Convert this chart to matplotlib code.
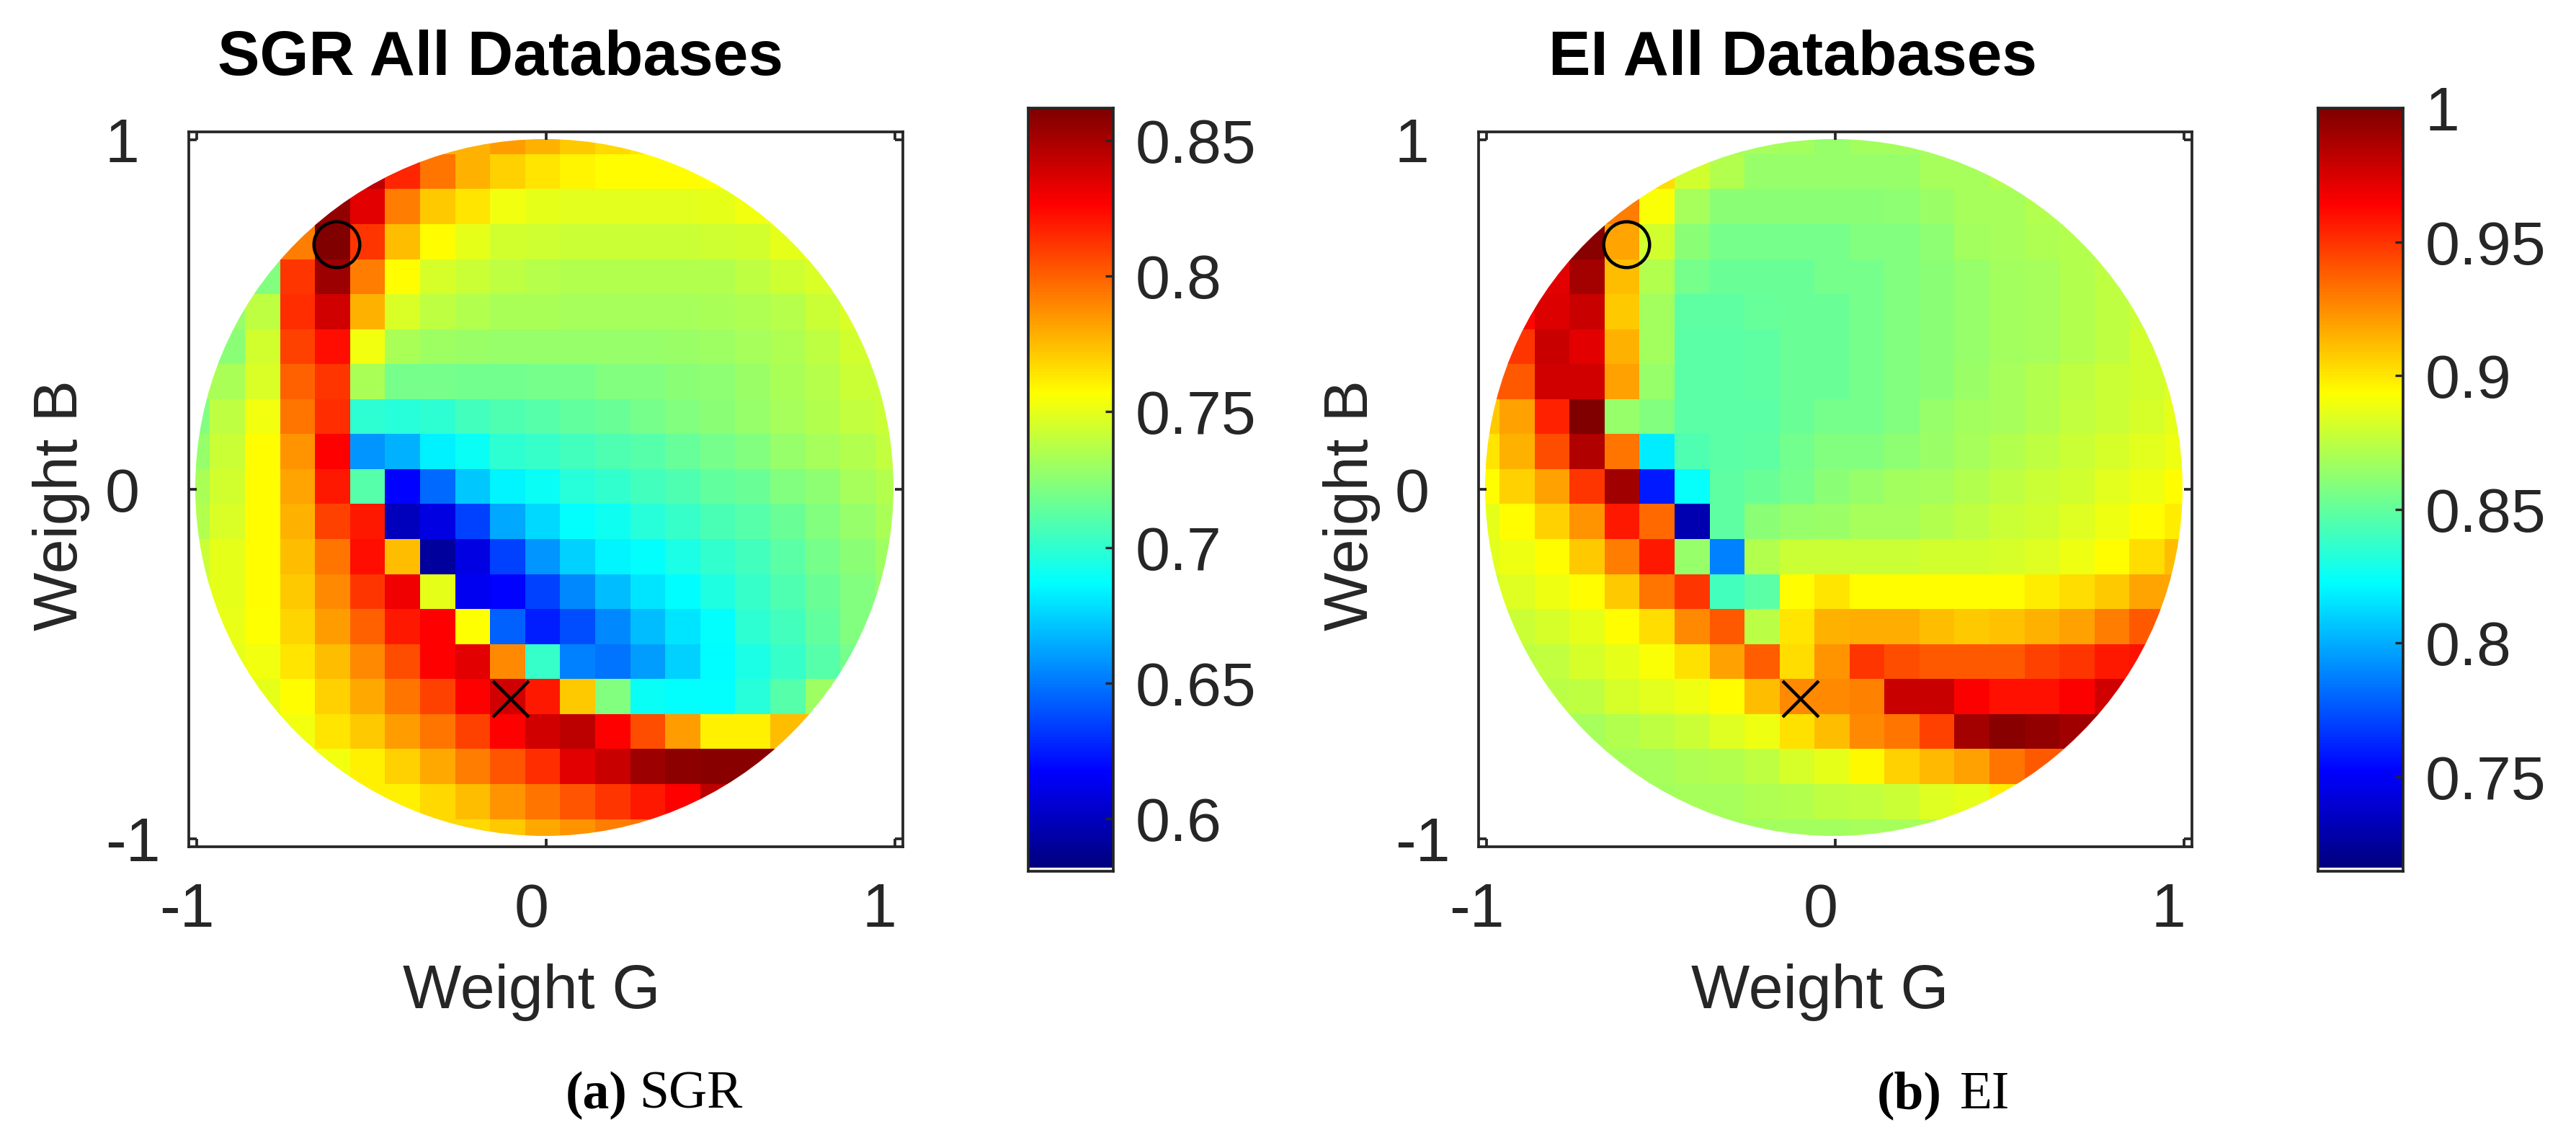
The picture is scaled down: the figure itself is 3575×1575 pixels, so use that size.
import numpy as np
import matplotlib
matplotlib.use('Agg')
import matplotlib.pyplot as plt
from matplotlib.colors import LinearSegmentedColormap
from matplotlib.patches import Ellipse

# values in thousandths, one list per row (top row first), first visible column in *_start
sgr_start = [8, 5, 4, 3, 2, 1, 1, 1, 0, 0, 0, 0, 0, 0, 0, 1, 2, 3, 4, 6, 8]
sgr_rows = [
    [778, 784, 778, 772, 767, 764],
    [845, 817, 795, 778, 770, 764, 760, 757, 757, 757, 756],
    [856, 834, 792, 772, 764, 753, 750, 749, 749, 749, 749, 750, 753, 756],
    [792, 862, 812, 775, 758, 750, 744, 743, 742, 742, 742, 742, 743, 744, 750, 756],
    [722, 812, 854, 792, 758, 746, 742, 739, 737, 736, 736, 736, 736, 736, 739, 743, 747, 753],
    [728, 739, 814, 840, 778, 747, 739, 736, 733, 733, 732, 732, 732, 732, 733, 735, 737, 742, 747],
    [725, 744, 809, 823, 753, 733, 730, 729, 728, 728, 728, 728, 728, 729, 730, 732, 735, 739, 744],
    [733, 747, 800, 812, 733, 719, 719, 718, 718, 719, 719, 722, 723, 725, 726, 729, 733, 737, 742],
    [722, 739, 753, 795, 814, 700, 697, 700, 705, 708, 711, 714, 716, 719, 722, 725, 728, 732, 736, 740, 742],
    [728, 742, 758, 786, 826, 658, 666, 683, 690, 700, 702, 705, 708, 711, 715, 719, 723, 728, 732, 736, 740],
    [733, 744, 757, 782, 820, 711, 617, 646, 672, 684, 690, 697, 701, 705, 708, 714, 716, 722, 726, 732, 736],
    [736, 747, 757, 778, 809, 820, 599, 610, 635, 663, 677, 687, 691, 697, 702, 707, 711, 716, 722, 728, 733],
    [742, 750, 757, 775, 795, 823, 775, 590, 610, 635, 658, 674, 684, 688, 694, 701, 705, 712, 719, 725, 730],
    [744, 750, 757, 772, 789, 812, 831, 750, 613, 617, 635, 655, 669, 680, 686, 695, 702, 708, 716, 722, 728],
    [750, 751, 756, 768, 784, 800, 820, 826, 756, 644, 625, 638, 655, 669, 680, 687, 700, 705, 714, 722],
    [750, 753, 764, 775, 789, 806, 826, 834, 789, 702, 652, 649, 660, 674, 686, 694, 702, 711, 719],
    [750, 758, 770, 781, 795, 809, 826, 840, 820, 772, 722, 690, 687, 688, 697, 711, 730],
    [753, 764, 772, 784, 795, 809, 827, 840, 845, 826, 806, 784, 761, 761, 775],
    [753, 761, 770, 781, 792, 803, 814, 834, 842, 854, 858, 859, 859],
    [761, 767, 775, 786, 795, 803, 812, 820, 827, 845],
    [767, 772, 781, 786, 792, 795],
]

ei_start = [8, 5, 4, 3, 2, 1, 1, 1, 0, 0, 0, 0, 0, 0, 1, 1, 2, 3, 4, 5, 8]
ei_rows = [
    [869, 867, 864, 867, 867, 869],
    [903, 881, 872, 864, 864, 864, 864, 864, 868, 869, 872],
    [929, 892, 869, 861, 861, 861, 861, 861, 862, 865, 868, 869, 872, 875],
    [997, 918, 881, 861, 855, 855, 855, 855, 858, 859, 862, 867, 868, 871, 872, 875],
    [972, 989, 912, 872, 855, 852, 852, 852, 855, 855, 858, 861, 864, 867, 868, 872, 875, 878],
    [963, 974, 980, 909, 867, 849, 849, 851, 852, 852, 855, 858, 861, 864, 867, 868, 872, 875, 878],
    [949, 980, 972, 915, 867, 847, 847, 849, 852, 852, 855, 858, 861, 864, 867, 868, 872, 875, 881],
    [940, 977, 977, 920, 864, 847, 847, 849, 852, 852, 855, 858, 861, 865, 868, 872, 875, 878, 881, 884],
    [909, 920, 955, 1000, 864, 858, 847, 847, 848, 852, 855, 855, 858, 864, 867, 869, 872, 876, 879, 882, 886],
    [901, 915, 943, 986, 932, 817, 844, 847, 849, 854, 858, 859, 862, 865, 868, 872, 875, 878, 882, 885, 889],
    [894, 906, 920, 949, 991, 759, 824, 849, 852, 855, 861, 864, 867, 869, 872, 875, 878, 881, 885, 889, 894],
    [886, 894, 906, 923, 957, 935, 730, 849, 861, 864, 865, 868, 869, 872, 875, 879, 881, 884, 888, 894, 899],
    [885, 889, 894, 909, 929, 957, 864, 787, 872, 878, 879, 878, 878, 881, 881, 882, 884, 889, 894, 903, 912],
    [879, 884, 889, 894, 909, 932, 949, 841, 847, 894, 901, 894, 894, 894, 894, 894, 898, 903, 909, 918, 918],
    [878, 882, 886, 894, 903, 926, 940, 874, 901, 915, 916, 916, 912, 909, 911, 915, 920, 929, 940],
    [875, 876, 882, 886, 892, 902, 920, 938, 903, 923, 949, 943, 939, 939, 940, 946, 949, 957, 960],
    [874, 875, 882, 885, 889, 894, 912, 926, 926, 928, 980, 980, 965, 960, 960, 965, 977],
    [869, 872, 875, 878, 884, 889, 902, 912, 926, 932, 946, 989, 997, 994, 991],
    [868, 869, 871, 872, 875, 882, 886, 895, 906, 913, 920, 932, 940],
    [867, 868, 869, 871, 872, 875, 876, 879, 884, 886, 898],
    [867, 867, 867, 868, 869, 871],
]

sgr_limits = [0.582, 0.862]
ei_limits = [0.716, 1.0]
sgr_cticks = [0.6, 0.65, 0.7, 0.75, 0.8, 0.85]
sgr_clabels = ['0.6', '0.65', '0.7', '0.75', '0.8', '0.85']
ei_cticks = [0.75, 0.8, 0.85, 0.9, 0.95, 1.0]
ei_clabels = ['0.75', '0.8', '0.85', '0.9', '0.95', '1']

best_point = [-0.6, 0.7]     # circle
cross_point = [-0.1, -0.6]   # cross
ticks = [-1, 0, 1]
tick_labels = ['-1', '0', '1']

W, H = 3575, 1575
DARK = '#262626'
LW = 2.7
LIM = 1.0225   # the box sits a bit outside the unit disc
plt.rcParams['font.family'] = ['Liberation Sans', 'DejaVu Sans']

# same anchors as the matlab jet map
jet = LinearSegmentedColormap.from_list('mjet', [
    (0, (0, 0, 0.5)), (0.125, (0, 0, 1)), (0.375, (0, 1, 1)),
    (0.625, (1, 1, 0)), (0.875, (1, 0, 0)), (1, (0.5, 0, 0))], N=256)


def make_grid(starts, rows):
    grid = np.zeros((21, 21))
    for i, (s, row) in enumerate(zip(starts, rows)):
        grid[i, :s] = row[0]   # only slivers of these end cells show inside the disc
        grid[i, s:s + len(row)] = row
        grid[i, s + len(row):] = row[-1]
    return grid / 1000


def box(x0, x1, y0, y1):
    return [x0 / W, 1 - y1 / H, (x1 - x0) / W, (y1 - y0) / H]


def put(fig, x, y, s, **kw):
    fig.text(x / W, 1 - y / H, s, **kw)


def panel(fig, x0, x1, grid, limits):
    ax = fig.add_axes(box(x0, x1, 183, 1175))
    x_edges = -0.0092 + 0.1003 * (np.arange(22) - 10.5)
    y_edges = 0.0078 - 0.1001 * (np.arange(22) - 10.5)
    mesh = ax.pcolormesh(x_edges, y_edges, grid, cmap=jet, vmin=limits[0], vmax=limits[1],
                         shading='flat', antialiased=False)
    disc = Ellipse((-0.004, 0.005), 2 * 1.0, 2 * 0.9964, transform=ax.transData)
    mesh.set_clip_path(disc)
    ax.plot(best_point[0], best_point[1], 'o', ms=45.8, mfc='none', mec='k', mew=3.2)
    ax.plot(cross_point[0], cross_point[1], 'x', ms=36, mec='k', mew=3.2)
    ax.set_xlim(-LIM, LIM)
    ax.set_ylim(-LIM, LIM)
    ax.set_xticks(ticks)
    ax.set_yticks(ticks)
    ax.set_xticklabels([])
    ax.set_yticklabels([])
    ax.tick_params(direction='in', top=True, right=True, length=7.6, width=LW, color=DARK)
    for sp in ax.spines.values():
        sp.set_linewidth(LW)
        sp.set_color(DARK)
    # the x labels do not sit centred under their ticks in the original
    x_shift = [-13, -20, -22]
    for t, lab, dx in zip(ticks, tick_labels, x_shift):
        ax.annotate(lab, xy=(t, 0), xycoords=('data', 'axes fraction'), xytext=(dx, -111),
                    textcoords='offset pixels', ha='center', va='baseline', fontsize=62, color=DARK)
    for t, lab in zip(ticks, tick_labels):
        ax.annotate(lab, xy=(0, t), xycoords=('axes fraction', 'data'), xytext=(-116, -31),
                    textcoords='offset pixels', ha='left', va='baseline', fontsize=62, color=DARK)
    return ax


def colorbar(fig, x0, x1, limits, cticks, clabels):
    cax = fig.add_axes(box(x0, x1, 150, 1209))
    grad = np.linspace(limits[0], limits[1], 256).reshape(-1, 1)
    cax.imshow(grad, cmap=jet, origin='lower', aspect='auto', vmin=limits[0], vmax=limits[1],
               extent=[0, 1, limits[0], limits[1]])
    cax.set_ylim(limits[0] - 0.005 * (limits[1] - limits[0]), limits[1])
    cax.set_xticks([])
    cax.yaxis.tick_right()
    cax.set_yticks(cticks)
    cax.set_yticklabels(clabels)
    cax.tick_params(axis='y', direction='in', length=8, width=2.4, color=DARK, pad=22,
                    labelsize=62, labelcolor=DARK)
    for sp in cax.spines.values():
        sp.set_linewidth(LW)
        sp.set_color(DARK)


fig = plt.figure(figsize=(W / 100, H / 100), dpi=100, facecolor='white')

panel(fig, 262, 1253, make_grid(sgr_start, sgr_rows), sgr_limits)
panel(fig, 2052, 3042, make_grid(ei_start, ei_rows), ei_limits)
colorbar(fig, 1427, 1545, sgr_limits, sgr_cticks, sgr_clabels)
colorbar(fig, 3217, 3335, ei_limits, ei_cticks, ei_clabels)

put(fig, 695, 104, 'SGR All Databases', fontsize=63, fontweight='bold', color='k', ha='center', va='baseline')
put(fig, 2488, 104, 'EI All Databases', fontsize=63, fontweight='bold', color='k', ha='center', va='baseline')

for cx in [738, 2526]:
    put(fig, cx, 1399, 'Weight G', fontsize=62, color=DARK, ha='center', va='baseline')
for bx in [107, 1898]:
    put(fig, bx, 701, 'Weight B', fontsize=62, color=DARK, rotation=90, rotation_mode='anchor',
        ha='center', va='baseline')

serif = ['Liberation Serif', 'DejaVu Serif']
put(fig, 785, 1538, '(a)', fontsize=53, fontweight='bold', family=serif, color='k', va='baseline')
put(fig, 887, 1538, 'SGR', fontsize=53, family=serif, color='k', va='baseline')
put(fig, 2605, 1538, '(b)', fontsize=53, fontweight='bold', family=serif, color='k', va='baseline')
put(fig, 2720, 1538, 'EI', fontsize=53, family=serif, color='k', va='baseline')

fig.savefig('out.png', dpi=100)
